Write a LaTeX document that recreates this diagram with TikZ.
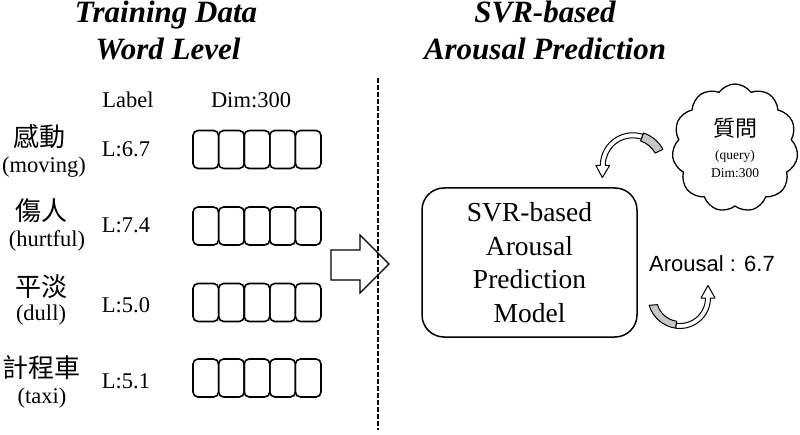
\documentclass[tikz,border=0pt]{standalone}
\usepackage{fontspec}
\setmainfont{Liberation Serif}
\newfontfamily\cjk{Noto Sans CJK TC}
\newfontfamily\arialf{Liberation Sans}
\usetikzlibrary{shapes.symbols,calc}
\begin{document}
\begin{tikzpicture}[x=1pt,y=1pt,
  title/.style={font=\bfseries\itshape\fontsize{31}{36}\selectfont, anchor=base, inner sep=0},
  body/.style={font=\fontsize{22.5}{26}\selectfont, anchor=base, inner sep=0},
  word/.style={font=\cjk\fontsize{26}{30}\selectfont, inner sep=0},
  cell/.style={draw, line width=1.6pt, rounded corners=5pt, minimum width=25.6pt, minimum height=38pt, inner sep=0},
  small/.style={font=\fontsize{13.5}{16}\selectfont, anchor=base, inner sep=0},
  band/.style={draw, line width=1pt, line join=round},
]
\useasboundingbox (0,0) rectangle (800,434);
% titles
\node[title] (t1a) at (166,411) {Training Data};
\node[title] (t1b) at (168,374) {Word Level};
\node[title] (t2a) at (545,411) {SVR-based};
\node[title] (t2b) at (545,374) {Arousal Prediction};
% headers
\node[body] (lab) at (128,326) {Label};
\node[body] (dim) at (251,326) {Dim:300};
% words
\node[word] (w1) at (39,297) {感動};
\node[body] (e1) at (44,261) {(moving)};
\node[body] (l1) at (126,277) {L:6.7};
\node[word] (w2) at (42,223) {傷人};
\node[body] (e2) at (47,187) {(hurtful)};
\node[body] (l2) at (126,201) {L:7.4};
\node[word] (w3) at (42,147) {平淡};
\node[body] (e3) at (41,114) {(dull)};
\node[body] (l3) at (126,122) {L:5.0};
\node[word] (w4) at (41,66) {計程車};
\node[body] (e4) at (42,31) {(taxi)};
\node[body] (l4) at (126,46) {L:5.1};
% vector cells
\foreach \r/\yy in {1/284.5,2/208,3/131.5,4/56}{
  \foreach \k in {0,...,4}{
    \node[cell] (c\r\k) at ({205.8+25.6*\k},\yy) {};
  }
}
% big arrow
\draw[line width=1.3pt, line join=miter] (331,184) -- (360,184) -- (360,199) -- (389,170) -- (360,141) -- (360,154) -- (331,154) -- cycle;
% dashed divider
\coordinate (dtop) at (378,356);
\coordinate (dbot) at (378,4);
\draw[line width=1.6pt, dash pattern=on 5pt off 2pt] (dtop) -- (dbot);
% model box
\node[draw, line width=1.5pt, rounded corners=22pt, minimum width=215pt, minimum height=149pt, align=center, font=\fontsize{27.5}{33.7}\selectfont] (svr) at (529.5,171.5) {SVR-based\\Arousal\\Prediction\\Model};
% cloud
\node[cloud, draw, line width=1.3pt, cloud puffs=11, cloud puff arc=110, aspect=1, minimum width=126pt, minimum height=128pt, inner sep=0] (cloud) at (735,286) {};
\node[font=\cjk\fontsize{22}{26}\selectfont, inner sep=0] (q1) at (735,306) {質問};
\node[small] (q2) at (735,274) {(query)};
\node[small] (q3) at (735,256) {Dim:300};
% output
\node[font=\arialf\fontsize{22}{26}\selectfont, anchor=base, inner sep=0] (out) at (712,162) {Arousal : 6.7};
% curved arrow from cloud to model
\coordinate (O1) at (632.8,268.7);
\filldraw[band, fill=gray!45] ($(O1)+(28.6:25.5)$) arc[start angle=28.6,end angle=72,radius=25.5] -- ($(O1)+(72:34)$) arc[start angle=72,end angle=28.6,radius=34.5] -- cycle;
\filldraw[band, fill=white] ($(O1)+(72:27.5)$) arc[start angle=72,end angle=180,radius=27.5] -- ($(O1)+(180:23)$) -- (602.3,256.5) -- ($(O1)+(180:37)$) -- ($(O1)+(180:32.5)$) arc[start angle=180,end angle=72,radius=32.5] -- cycle;
% curved arrow from model to output
\coordinate (O2) at (680,136);
\filldraw[band, fill=gray!45] ($(O2)+(196.5:23.5)$) arc[start angle=196.5,end angle=262,radius=23.5] -- ($(O2)+(262:30.5)$) arc[start angle=262,end angle=196.5,radius=32.5] -- cycle;
\filldraw[band, fill=white] ($(O2)+(262:25.5)$) arc[start angle=262,end angle=360,radius=25.5] -- ($(O2)+(0:21)$) -- (708,148.5) -- ($(O2)+(0:35)$) -- ($(O2)+(0:30.5)$) arc[start angle=360,end angle=262,radius=30.5] -- cycle;
\end{tikzpicture}
\end{document}
